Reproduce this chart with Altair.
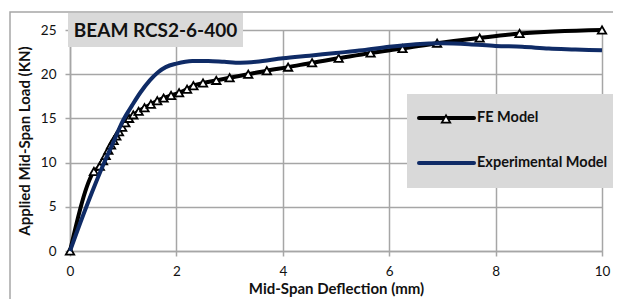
import altair as alt
import pandas as pd

# ---- data ----
fe_x = [0, 0.45, 0.56, 0.62, 0.67, 0.72, 0.77, 0.82, 0.87, 0.92, 0.98, 1.04, 1.11, 1.19,
        1.29, 1.4, 1.52, 1.64, 1.76, 1.9, 2.05, 2.2, 2.32, 2.5, 2.75, 3.0, 3.35, 3.7,
        4.1, 4.55, 5.05, 5.65, 6.25, 6.9, 7.7, 8.45, 10.0]
fe_y = [0, 9.0, 9.6, 10.2, 10.8, 11.4, 12.0, 12.5, 13.0, 13.5, 14.0, 14.5, 15.0, 15.4,
        15.8, 16.2, 16.6, 17.0, 17.3, 17.6, 17.9, 18.3, 18.7, 19.0, 19.3, 19.6, 20.0, 20.4,
        20.8, 21.3, 21.8, 22.4, 22.9, 23.5, 24.1, 24.6, 25.0]

exp_x = [0, 0.25, 0.47, 0.65, 0.8, 1.0, 1.17, 1.32, 1.5, 1.65, 1.8, 2.0, 2.3, 2.6, 2.9,
         3.2, 3.5, 4.0, 4.5, 5.0, 5.5, 6.0, 6.5, 7.0, 7.5, 8.0, 8.5, 9.0, 9.5, 10.0]
exp_y = [0, 4.1, 7.5, 10.1, 12.1, 14.8, 16.5, 17.9, 19.3, 20.2, 20.8, 21.2, 21.5, 21.5, 21.4,
         21.3, 21.4, 21.8, 22.1, 22.4, 22.7, 23.1, 23.4, 23.5, 23.4, 23.2, 23.1, 22.9, 22.8, 22.7]

x_ticks = [0, 2, 4, 6, 8, 10]
y_ticks = [0, 5, 10, 15, 20, 25]

chart_title = "BEAM RCS2-6-400"
x_title = "Mid-Span Deflection (mm)"
y_title = "Applied  Mid-Span Load (KN)"
series_names = ["FE Model", "Experimental Model"]

fe = pd.DataFrame({"x": fe_x, "y": fe_y})
ex = pd.DataFrame({"x": exp_x, "y": exp_y})
one = pd.DataFrame({"a": [0]})

W, H = 532, 221
GRID = "#a6a6a6"
BOXFILL = "#d9d9d9"
NAVY = "#0f2b66"
FONT = "Lato"

xs = alt.Scale(domain=[0, 10], nice=False)
ys = alt.Scale(domain=[0, 25], nice=False)

x_axis = alt.Axis(values=x_ticks, title=x_title, grid=True, gridColor=GRID, gridWidth=1.5,
                  domainColor=GRID, domainWidth=1.5, tickColor=GRID, tickWidth=1.5, tickSize=5,
                  labelFlush=False,
                  labelFont=FONT, labelFontSize=13.5, labelColor="#111", labelPadding=8,
                  titleFont=FONT, titleFontSize=15, titleFontWeight="bold", titleColor="#111",
                  titlePadding=4)
y_axis = alt.Axis(values=y_ticks, title=y_title, grid=True, gridColor=GRID, gridWidth=1.5,
                  domainColor=GRID, domainWidth=1.5, tickColor=GRID, tickWidth=1.5, tickSize=5,
                  labelFlush=False,
                  labelFont=FONT, labelFontSize=13.5, labelColor="#111", labelPadding=9,
                  titleFont=FONT, titleFontSize=15, titleFontWeight="bold", titleColor="#111",
                  titlePadding=8)

base_fe = alt.Chart(fe).encode(x=alt.X("x:Q", scale=xs, axis=x_axis),
                               y=alt.Y("y:Q", scale=ys, axis=y_axis))

fe_line = base_fe.mark_line(color="black", strokeWidth=4, interpolate="monotone")
fe_pts = base_fe.mark_point(shape="triangle-up", size=70, filled=True, fill="white",
                            stroke="black", strokeWidth=1.8, opacity=1)
exp_line = alt.Chart(ex).mark_line(color=NAVY, strokeWidth=4, interpolate="monotone").encode(
    x=alt.X("x:Q", scale=xs), y=alt.Y("y:Q", scale=ys))

# outer chart border (left and top visible)
border = alt.Chart(one).mark_rect(fill=None, stroke=GRID, strokeWidth=1.5).encode(
    x=alt.value(-60), x2=alt.value(600), y=alt.value(-18), y2=alt.value(320))

# title box
tbox = alt.Chart(one).mark_rect(fill=BOXFILL).encode(
    x=alt.value(-2), x2=alt.value(173), y=alt.value(-17), y2=alt.value(17))
ttext = alt.Chart(one).mark_text(text=chart_title, font=FONT, fontSize=19, fontWeight="bold",
                                 color="#111", align="center", baseline="middle").encode(
    x=alt.value(85.5), y=alt.value(1))

# legend
lbox = alt.Chart(one).mark_rect(fill=BOXFILL).encode(
    x=alt.value(337), x2=alt.value(560), y=alt.value(64), y2=alt.value(158))
l1 = alt.Chart(one).mark_rule(color="black", strokeWidth=4, strokeCap="round").encode(
    x=alt.value(349), x2=alt.value(404), y=alt.value(88))
l1p = alt.Chart(one).mark_point(shape="triangle-up", size=70, filled=True, fill="white",
                                stroke="black", strokeWidth=1.8, opacity=1).encode(
    x=alt.value(376), y=alt.value(89))
l1t = alt.Chart(one).mark_text(text=series_names[0], font=FONT, fontSize=14.5, fontWeight="bold",
                               color="#111", align="left", baseline="middle").encode(
    x=alt.value(407), y=alt.value(88))
l2 = alt.Chart(one).mark_rule(color=NAVY, strokeWidth=4, strokeCap="round").encode(
    x=alt.value(349), x2=alt.value(404), y=alt.value(133))
l2t = alt.Chart(one).mark_text(text=series_names[1], font=FONT, fontSize=14.5, fontWeight="bold",
                               color="#111", align="left", baseline="middle").encode(
    x=alt.value(407), y=alt.value(133))

chart = alt.layer(border, fe_line, fe_pts, exp_line, tbox, ttext,
                  lbox, l1, l1p, l1t, l2, l2t).properties(
    width=W, height=H,
    autosize=alt.AutoSizeParams(type="none"),
    padding={"left": 62, "top": 22, "right": 11, "bottom": 48},
).configure_view(stroke=None).configure(background="white")

chart.save("out.html", embed_options={"renderer": "svg", "actions": False})
